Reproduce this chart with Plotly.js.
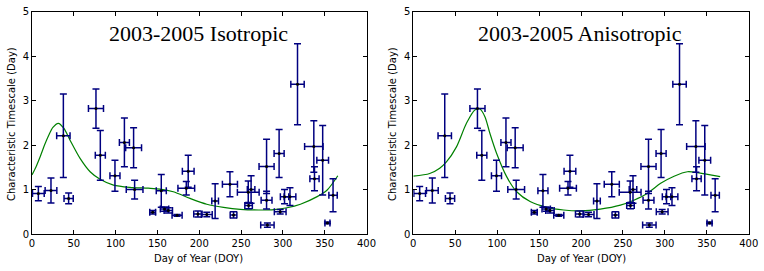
<!DOCTYPE html>
<html><head><meta charset="utf-8">
<script src="https://cdn.plot.ly/plotly-3.0.1.min.js"></script>
<style>body{margin:0;padding:0;background:#fff}#c{width:764px;height:271px}</style>
</head><body><div id="c"></div>
<script>
// Observed data (same set in both panels)
const doy   = [7.6, 22.7, 37.5, 43.8, 76.5, 81.7, 99.2, 110.5, 121.5, 122.7, 144.3, 154.6, 158.5, 163, 173.5, 184.5, 186.8, 198.4, 209, 219, 236.7, 241, 258.6, 259, 262, 280.5, 280.5, 281.5, 295.5, 296.8, 302, 308.5, 317.5, 337, 337.8, 347.6, 353.3, 360];
const tau   = [0.91, 0.98, 2.21, 0.80, 2.82, 1.77, 1.31, 2.06, 1.94, 1.00, 0.49, 0.97, 0.56, 0.53, 0.42, 1.03, 1.41, 0.45, 0.44, 0.74, 1.12, 0.43, 0.94, 0.64, 1.00, 1.52, 0.76, 0.20, 1.81, 0.50, 0.84, 0.84, 3.37, 1.97, 1.24, 1.66, 0.25, 0.87];
const tauErr= [0.16, 0.28, 0.94, 0.12, 0.44, 0.56, 0.35, 0.55, 0.45, 0.21, 0.04, 0.37, 0.05, 0.06, 0.02, 0.15, 0.36, 0.07, 0.05, 0.39, 0.28, 0.07, 0.25, 0.07, 0.31, 0.61, 0.20, 0.05, 0.54, 0.05, 0.16, 0.20, 0.91, 0.58, 0.27, 0.78, 0.02, 0.37];
const doyErr= [7, 7, 8, 5.5, 9, 6, 6, 6, 9.5, 10, 3.5, 6, 5, 5, 6, 10, 7, 5, 6.5, 4, 9, 4, 13, 4.5, 4.5, 9, 6.5, 8, 6, 7, 5, 7, 8, 11, 5.5, 7, 3, 5];

// Model curves
const isoX = [0, 5, 10, 15, 20, 25, 31.5, 38, 45.5, 57.5, 69.5, 81.4, 97.4, 117, 139, 153, 169, 189, 209, 229, 249, 271, 290, 305, 321, 341, 353, 365.7];
const isoY = [1.33, 1.52, 1.75, 2.0, 2.22, 2.40, 2.49, 2.38, 2.11, 1.70, 1.40, 1.23, 1.10, 1.05, 1.03, 1.01, 0.95, 0.80, 0.67, 0.60, 0.555, 0.54, 0.55, 0.59, 0.67, 0.84, 0.99, 1.31];
const anisoX = [0, 19.6, 31.5, 39.5, 51.5, 63.4, 73.4, 79.4, 85.4, 91.4, 99.4, 111.3, 123.3, 139.3, 159.2, 179.2, 199.4, 223, 247, 263, 279, 295, 311, 327, 339, 351, 366];
const anisoY = [1.30, 1.36, 1.48, 1.62, 1.96, 2.49, 2.79, 2.81, 2.64, 2.26, 1.81, 1.29, 0.95, 0.73, 0.60, 0.54, 0.52, 0.56, 0.65, 0.76, 0.91, 1.14, 1.30, 1.40, 1.38, 1.34, 1.29];

const titles = ['2003-2005 Isotropic', '2003-2005 Anisotropic'];
const xTicks = [0, 50, 100, 150, 200, 250, 300, 350, 400];
const yTicks = [0, 1, 2, 3, 4, 5];

const errColor = '#000080';
function dataTrace(xa, ya) {
  return {
    x: doy, y: tau, xaxis: xa, yaxis: ya, type: 'scatter', mode: 'markers',
    marker: {color: '#000000', size: 3},
    error_y: {type: 'data', array: tauErr, visible: true, color: errColor, thickness: 1.5, width: 3.5},
    error_x: {type: 'data', array: doyErr, visible: true, color: errColor, thickness: 1.5, width: 3.5},
    hoverinfo: 'skip', showlegend: false
  };
}
function curveTrace(x, y, xa, ya) {
  return {x: x, y: y, xaxis: xa, yaxis: ya, type: 'scatter', mode: 'lines',
    line: {color: '#008000', width: 1.2, shape: 'spline', smoothing: 0.8}, showlegend: false, hoverinfo: 'skip'};
}

const traces = [
  curveTrace(isoX, isoY, 'x', 'y'),
  dataTrace('x', 'y'),
  curveTrace(anisoX, anisoY, 'x2', 'y2'),
  dataTrace('x2', 'y2')
];

const tickFont = {family: 'DejaVu Sans, sans-serif', size: 10, color: '#000'};
function xAxis(domain, anchor) {
  return {domain: domain, anchor: anchor, range: [0, 400], tickvals: xTicks, ticktext: xTicks.map(String),
    ticks: 'inside', ticklen: 4, tickwidth: 1, tickcolor: '#000', showline: true, linecolor: '#000', linewidth: 1,
    mirror: 'ticks', showgrid: false, zeroline: false, tickfont: tickFont, fixedrange: true};
}
function yAxis(domain, anchor) {
  return {domain: domain, anchor: anchor, range: [0, 5], tickvals: yTicks, ticktext: yTicks.map(String),
    ticks: 'inside', ticklen: 4, tickwidth: 1, tickcolor: '#000', showline: true, linecolor: '#000', linewidth: 1,
    mirror: 'ticks', showgrid: false, zeroline: false, tickfont: tickFont, fixedrange: true};
}
const yDom = [37/271, 259.3/271];
const labelFont = {family: 'DejaVu Sans, sans-serif', size: 10, color: '#000'};
const titleFont = {family: 'Liberation Serif, Times New Roman, serif', size: 22, color: '#000'};

const layout = {
  width: 764, height: 271, margin: {l: 0, r: 0, t: 0, b: 0},
  paper_bgcolor: '#fff', plot_bgcolor: '#fff', showlegend: false,
  xaxis: xAxis([32/764, 366.5/764], 'y'),
  yaxis: yAxis(yDom, 'x'),
  xaxis2: xAxis([413.3/764, 748.7/764], 'y2'),
  yaxis2: yAxis(yDom, 'x2'),
  annotations: [
    {text: titles[0], xref: 'x', yref: 'paper', x: 199, y: (271-34)/271, xanchor: 'center', yanchor: 'middle', showarrow: false, font: titleFont},
    {text: titles[1], xref: 'x2', yref: 'paper', x: 199, y: (271-34)/271, xanchor: 'center', yanchor: 'middle', showarrow: false, font: titleFont},
    {text: 'Day of Year (DOY)', xref: 'x', yref: 'paper', x: 199, y: (271-258)/271, xanchor: 'center', yanchor: 'middle', showarrow: false, font: labelFont},
    {text: 'Day of Year (DOY)', xref: 'x2', yref: 'paper', x: 200, y: (271-258)/271, xanchor: 'center', yanchor: 'middle', showarrow: false, font: labelFont},
    {text: 'Characteristic Timescale (Day)', xref: 'paper', yref: 'paper', x: 11/764, y: (271-124)/271, xanchor: 'center', yanchor: 'middle', textangle: -90, showarrow: false, font: labelFont},
    {text: 'Characteristic Timescale (Day)', xref: 'paper', yref: 'paper', x: 392/764, y: (271-124)/271, xanchor: 'center', yanchor: 'middle', textangle: -90, showarrow: false, font: labelFont}
  ]
};
Plotly.newPlot('c', traces, layout, {staticPlot: true, displayModeBar: false});
</script></body></html>
